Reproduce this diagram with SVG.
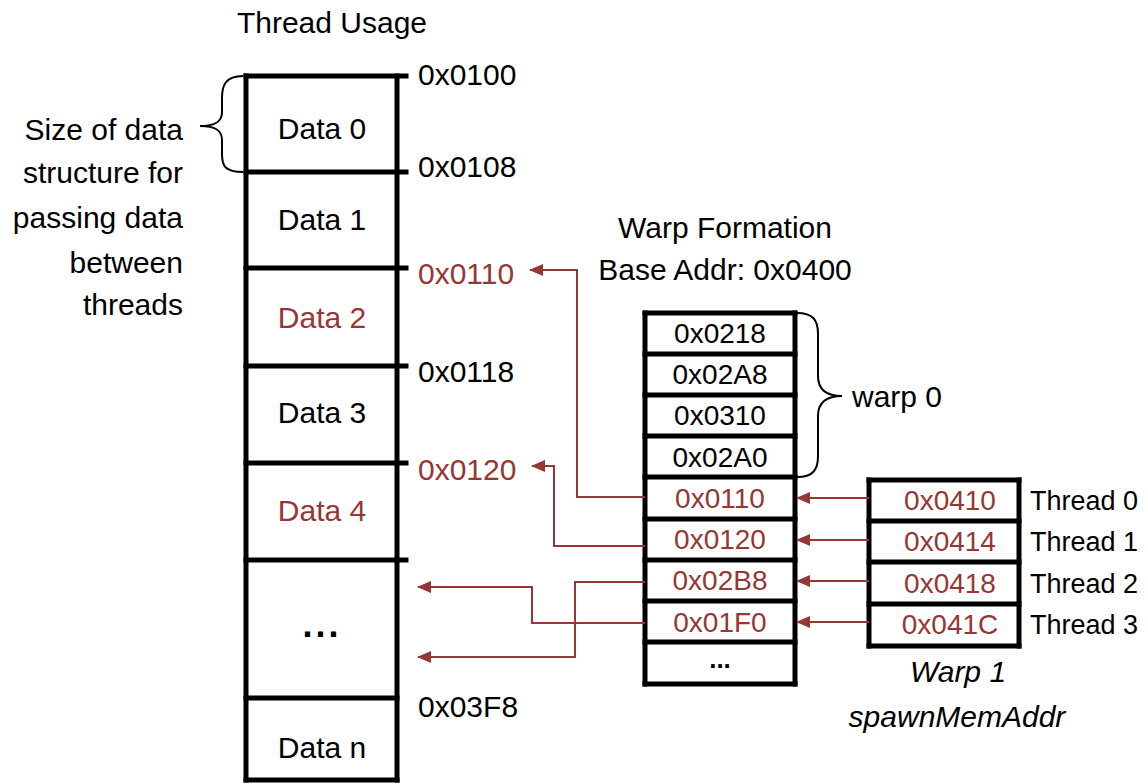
<svg xmlns="http://www.w3.org/2000/svg" width="1148" height="784" viewBox="0 0 1148 784">
<defs>
<style>
text{font-family:"Liberation Sans",Arial,sans-serif;font-size:30px;fill:#000}
.r{fill:#953735}
.m{text-anchor:middle}
.e{text-anchor:end}
.c{font-size:28px}
.th{font-size:27px}
.it{font-style:italic}
.thick{stroke:#000;stroke-width:5;fill:none;stroke-linecap:square}
.thin{stroke:#000;stroke-width:2;fill:none}
.conn{stroke:#953735;stroke-width:2;fill:none}
</style>
<marker id="ah" viewBox="0 0 14 12" refX="13" refY="6" markerWidth="14" markerHeight="12" markerUnits="userSpaceOnUse" orient="auto">
<path d="M0,0 L14,6 L0,12 Z" fill="#953735"/>
</marker>
</defs>
<rect width="1148" height="784" fill="#fff"/>

<g id="thread-usage">
<text class="m" x="332" y="33">Thread Usage</text>
<line class="thick" x1="246" y1="76" x2="246" y2="780"/>
<line class="thick" x1="397" y1="76" x2="397" y2="780"/>
<line class="thick" x1="246" y1="76" x2="406" y2="76"/>
<line class="thick" x1="246" y1="172" x2="406" y2="172"/>
<line class="thick" x1="246" y1="268" x2="406" y2="268"/>
<line class="thick" x1="246" y1="366" x2="406" y2="366"/>
<line class="thick" x1="246" y1="463" x2="406" y2="463"/>
<line class="thick" x1="246" y1="560" x2="406" y2="560"/>
<line class="thick" x1="246" y1="698" x2="397" y2="698"/>
<line class="thick" x1="246" y1="780" x2="397" y2="780"/>
<text class="m" x="322" y="139">Data 0</text>
<text class="m" x="322" y="230">Data 1</text>
<text class="m r" x="322" y="328">Data 2</text>
<text class="m" x="322" y="423">Data 3</text>
<text class="m r" x="322" y="521">Data 4</text>
<text class="m" x="322" y="637" style="font-weight:bold;font-size:36px;letter-spacing:3px">...</text>
<text class="m" x="322" y="758">Data n</text>
<text x="418" y="85">0x0100</text>
<text x="418" y="177">0x0108</text>
<text class="r" x="418" y="284">0x0110</text>
<text x="418" y="382">0x0118</text>
<text class="r" x="418" y="480">0x0120</text>
<text x="418" y="717">0x03F8</text>
</g>

<g id="size-brace">
<path class="thin" d="M243,76 C225,76 222,86 222,98 L222,112 C222,122 215,126 200,126 C215,126 222,130 222,140 L222,154 C222,166 225,172 243,172"/>
<text class="e" x="183" y="140">Size of data</text>
<text class="e" x="183" y="183">structure for</text>
<text class="e" x="183" y="228">passing data</text>
<text class="e" x="183" y="273">between</text>
<text class="e" x="183" y="315">threads</text>
</g>

<g id="warp-formation">
<text class="m" x="725" y="238">Warp Formation</text>
<text class="m" x="725" y="280">Base Addr: 0x0400</text>
<line class="thick" x1="645" y1="313" x2="645" y2="684"/>
<line class="thick" x1="795" y1="313" x2="795" y2="684"/>
<line class="thick" x1="645" y1="313" x2="795" y2="313"/>
<line class="thick" x1="645" y1="354" x2="795" y2="354"/>
<line class="thick" x1="645" y1="395" x2="795" y2="395"/>
<line class="thick" x1="645" y1="436" x2="795" y2="436"/>
<line class="thick" x1="645" y1="477" x2="795" y2="477"/>
<line class="thick" x1="645" y1="519" x2="795" y2="519"/>
<line class="thick" x1="645" y1="560" x2="795" y2="560"/>
<line class="thick" x1="645" y1="601" x2="795" y2="601"/>
<line class="thick" x1="645" y1="642" x2="795" y2="642"/>
<line class="thick" x1="645" y1="684" x2="795" y2="684"/>
<text class="m c" x="720" y="343">0x0218</text>
<text class="m c" x="720" y="384">0x02A8</text>
<text class="m c" x="720" y="425">0x0310</text>
<text class="m c" x="720" y="467">0x02A0</text>
<text class="m c r" x="720" y="508">0x0110</text>
<text class="m c r" x="720" y="549">0x0120</text>
<text class="m c r" x="720" y="590">0x02B8</text>
<text class="m c r" x="720" y="632">0x01F0</text>
<text class="m" x="720" y="668" style="font-weight:bold;font-size:26px">...</text>
</g>

<g id="warp0-brace">
<path class="thin" d="M797,313 C813,313 818,320 818,334 L818,376 C818,390 826,396 842,396 C826,396 818,402 818,416 L818,456 C818,470 813,477 797,477"/>
<text x="852" y="407">warp 0</text>
</g>

<g id="warp1-spawn">
<line class="thick" x1="869" y1="480" x2="869" y2="646"/>
<line class="thick" x1="1019" y1="480" x2="1019" y2="646"/>
<line class="thick" x1="869" y1="480" x2="1019" y2="480"/>
<line class="thick" x1="869" y1="521" x2="1019" y2="521"/>
<line class="thick" x1="869" y1="562" x2="1019" y2="562"/>
<line class="thick" x1="869" y1="604" x2="1019" y2="604"/>
<line class="thick" x1="869" y1="646" x2="1019" y2="646"/>
<text class="m c r" x="950" y="510">0x0410</text>
<text class="m c r" x="950" y="551">0x0414</text>
<text class="m c r" x="950" y="593">0x0418</text>
<text class="m c r" x="950" y="634">0x041C</text>
<text class="th" x="1030" y="510">Thread 0</text>
<text class="th" x="1030" y="551">Thread 1</text>
<text class="th" x="1030" y="593">Thread 2</text>
<text class="th" x="1030" y="634">Thread 3</text>
<text class="m it" x="958" y="682">Warp 1</text>
<text class="m it" x="957" y="727">spawnMemAddr</text>
</g>

<g id="connectors">
<line class="conn" x1="869" y1="498" x2="797" y2="498" marker-end="url(#ah)"/>
<line class="conn" x1="869" y1="540" x2="797" y2="540" marker-end="url(#ah)"/>
<line class="conn" x1="869" y1="581" x2="797" y2="581" marker-end="url(#ah)"/>
<line class="conn" x1="869" y1="622" x2="797" y2="622" marker-end="url(#ah)"/>
<polyline class="conn" points="645,497 577,497 577,270 530,270" marker-end="url(#ah)"/>
<polyline class="conn" points="645,546 554,546 554,466 532,466" marker-end="url(#ah)"/>
<polyline class="conn" points="645,582 575,582 575,657 418,657" marker-end="url(#ah)"/>
<polyline class="conn" points="645,623 532,623 532,587 418,587" marker-end="url(#ah)"/>
</g>
</svg>
